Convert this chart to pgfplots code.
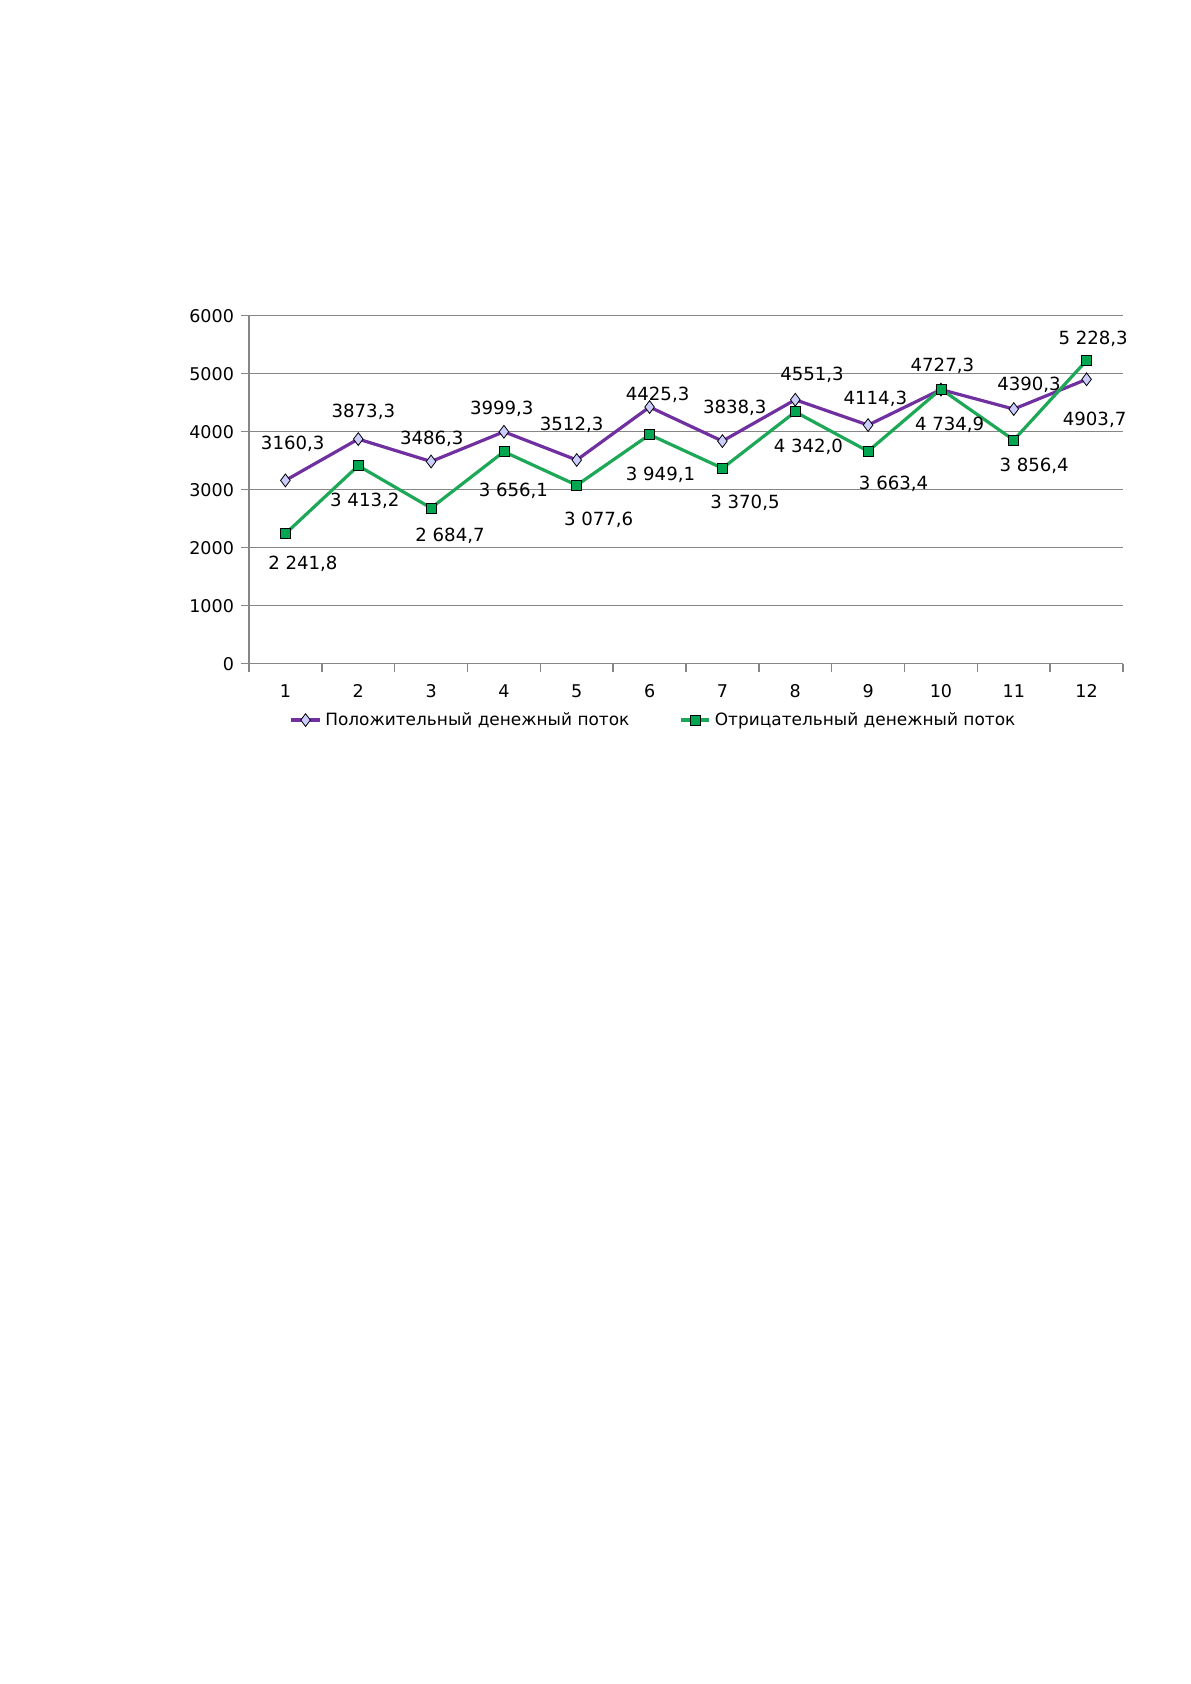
\documentclass[border=0pt]{standalone}
\usepackage{pgfplots}
\pgfplotsset{compat=1.18}
\usepackage{fontspec}
\setmainfont{DejaVu Sans}
\definecolor{pospurple}{RGB}{112,48,160}
\definecolor{posfill}{RGB}{204,204,255}
\definecolor{neggreen}{RGB}{28,168,86}
\definecolor{negfill}{RGB}{0,166,80}
\definecolor{gridgray}{RGB}{134,134,134}
\begin{document}
\begin{tikzpicture}
\path[use as bounding box] (0,0) rectangle (595.5bp,-842bp);
\begin{axis}[
  at={(124.5bp,-331.85bp)}, anchor=south west,
  scale only axis, width=437bp, height=174bp,
  xmin=0.5, xmax=12.5, ymin=0, ymax=6000,
  axis x line*=bottom, axis y line*=left,
  axis line style={gridgray, line width=0.7bp},
  xtick={1,...,12}, minor xtick={0.5,1.5,...,12.5},
  major x tick style={draw=none},
  minor x tick style={gridgray, line width=0.7bp},
  minor tick length=4bp,
  x tick label style={yshift=-3bp},
  ytick={0,1000,...,6000},
  ymajorgrids, major grid style={gridgray, line width=0.7bp},
  y tick style={gridgray, line width=0.7bp},
  tick align=outside, major tick length=4bp,
  /pgf/number format/assume math mode=true,
  yticklabel style={/pgf/number format/1000 sep={}},
  tick label style={font=\fontsize{8.8}{10}\selectfont},
  legend style={at={(0.464,-0.162)}, anchor=center, draw=none, fill=none,
    font=\fontsize{8.5}{10}\selectfont, legend columns=2,
    /tikz/every even column/.append style={column sep=23bp},
    inner sep=0pt},
  legend image code/.code={\draw[mark repeat=2,mark phase=2,#1] plot coordinates {(0cm,0cm) (0.25cm,0cm) (0.5cm,0cm)};},
  clip=false,
]
\addplot[pospurple, line width=1.6bp, mark=diamond*, mark size=3.2bp,
  mark options={fill=posfill, draw=black, line width=0.4bp}]
  coordinates {(1,3160.3)(2,3873.3)(3,3486.3)(4,3999.3)(5,3512.3)(6,4425.3)(7,3838.3)(8,4551.3)(9,4114.3)(10,4727.3)(11,4390.3)(12,4903.7)};
\addlegendentry{Положительный денежный поток}
\addplot[neggreen, line width=1.6bp, mark=square*, mark size=2.5bp,
  mark options={fill=negfill, draw=black, line width=0.4bp}]
  coordinates {(1,2241.8)(2,3413.2)(3,2684.7)(4,3656.1)(5,3077.6)(6,3949.1)(7,3370.5)(8,4342.0)(9,3663.4)(10,4734.9)(11,3856.4)(12,5228.3)};
\addlegendentry{Отрицательный денежный поток}
\begin{scope}[every node/.style={font=\fontsize{9.1}{10}\selectfont, inner sep=0pt}]
\node at (axis cs:1.10,3799) {3160,3};
\node at (axis cs:2.07,4345) {3873,3};
\node at (axis cs:3.01,3874) {3486,3};
\node at (axis cs:3.97,4402) {3999,3};
\node at (axis cs:4.93,4115) {3512,3};
\node at (axis cs:6.11,4644) {4425,3};
\node at (axis cs:7.17,4420) {3838,3};
\node at (axis cs:8.23,4977) {4551,3};
\node at (axis cs:9.10,4575) {4114,3};
\node at (axis cs:10.02,5132) {4727,3};
\node at (axis cs:11.21,4816) {4390,3};
\node at (axis cs:12.11,4201) {4903,7};
\node at (axis cs:1.24,1718) {2 241,8};
\node at (axis cs:2.09,2810) {3 413,2};
\node at (axis cs:3.26,2201) {2 684,7};
\node at (axis cs:4.13,2977) {3 656,1};
\node at (axis cs:5.30,2489) {3 077,6};
\node at (axis cs:6.15,3253) {3 949,1};
\node at (axis cs:7.31,2782) {3 370,5};
\node at (axis cs:8.18,3741) {4 342,0};
\node at (axis cs:9.35,3109) {3 663,4};
\node at (axis cs:10.12,4115) {4 734,9};
\node at (axis cs:11.28,3408) {3 856,4};
\node at (axis cs:12.09,5598) {5 228,3};
\end{scope}
\end{axis}
\end{tikzpicture}
\end{document}
